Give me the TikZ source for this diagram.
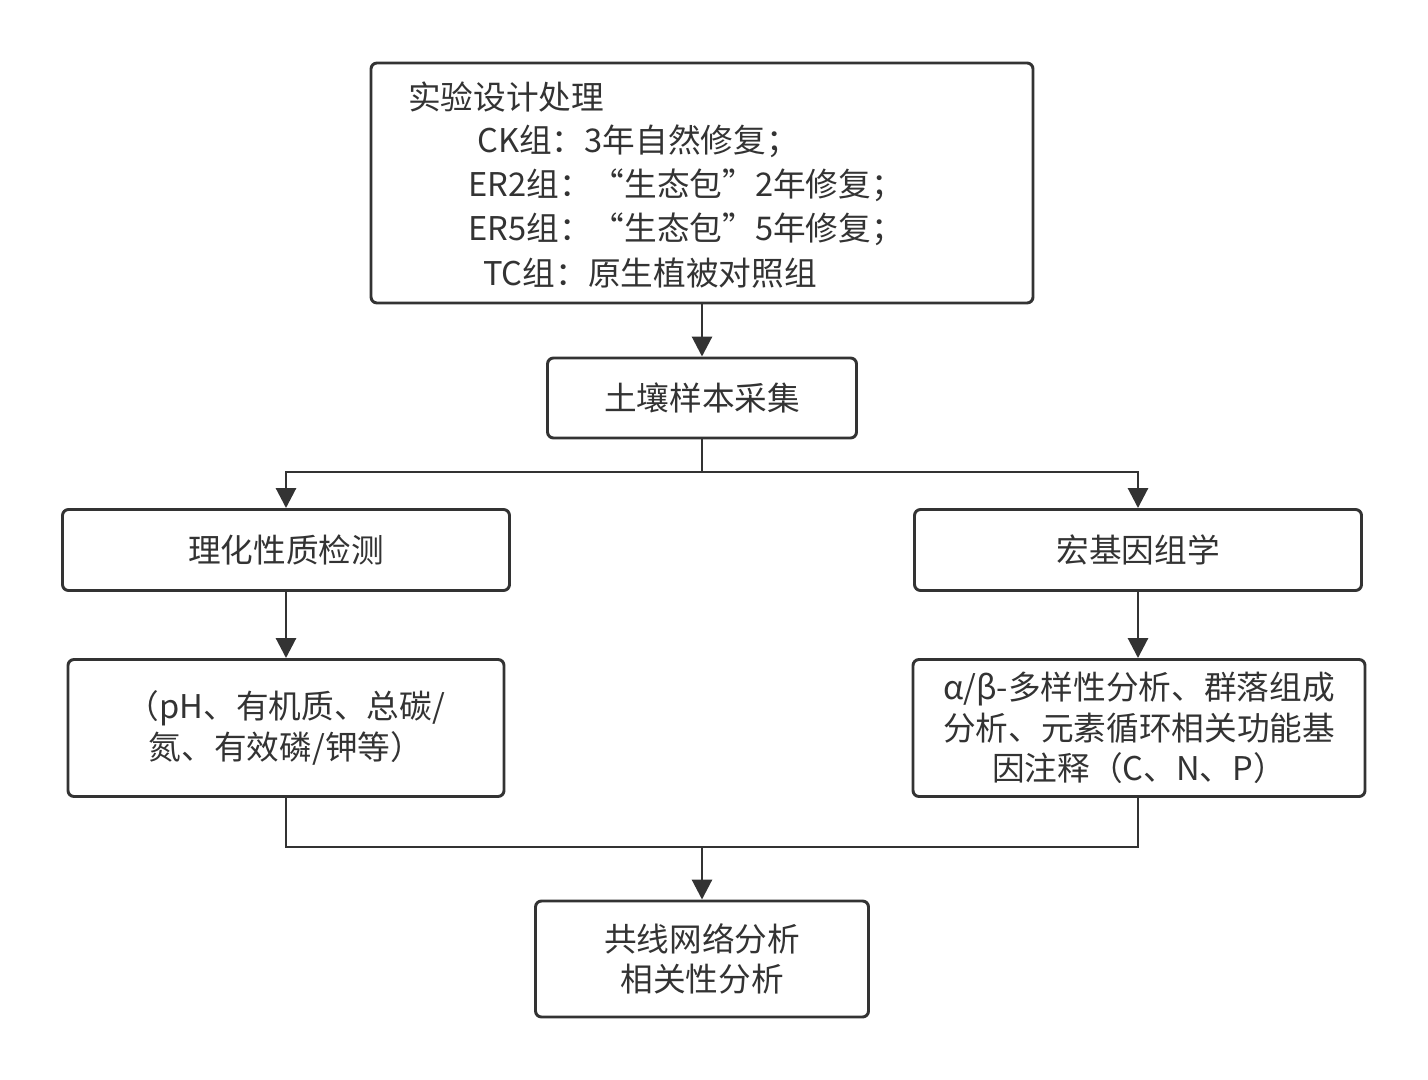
\documentclass[tikz,border=0pt]{standalone}
\usepackage{fontspec}
\setmainfont{Noto Sans CJK SC}
\usetikzlibrary{arrows.meta}
\definecolor{ln}{HTML}{333333}
\begin{document}
\begin{tikzpicture}[x=0.75pt,y=-0.75pt,
  box/.style={draw=ln,line width=2.2pt,rounded corners=4.5pt,inner sep=0pt,align=center,font=\fontsize{24.5}{30.5}\selectfont,text=ln},
  txt/.style={inner sep=0pt,anchor=west,font=\fontsize{24.5}{30.5}\selectfont,text=ln},
  conn/.style={draw=ln,line width=2.2pt},
  arr/.style={conn,-{Triangle[length=15pt,width=15pt]}}]
\useasboundingbox (0,0) rectangle (1428,1080);
\node[box,minimum width=662*0.75pt,minimum height=240*0.75pt] (top) at (702,183) {};
\node[txt] (t1) at (408,97) {实验设计处理};
\node[txt] (t2) at (477,141) {CK组：3年自然修复；};
\node[txt] (t3) at (468,185) {ER2组：“生态包”2年修复；};
\node[txt] (t4) at (468,229) {ER5组：“生态包”5年修复；};
\node[txt] (t5) at (483,273) {TC组：原生植被对照组};
\node[box,minimum width=309*0.75pt,minimum height=80*0.75pt] (soil) at (702,398) {土壤样本采集};
\node[box,minimum width=447*0.75pt,minimum height=81*0.75pt] (l1) at (286,550) {理化性质检测};
\node[box,minimum width=447*0.75pt,minimum height=81*0.75pt] (r1) at (1138,550) {宏基因组学};
\node[box,minimum width=436*0.75pt,minimum height=137*0.75pt] (l2) at (286,728) {（pH、有机质、总碳/\\氮、有效磷/钾等）};
\node[box,minimum width=452*0.75pt,minimum height=137*0.75pt] (r2) at (1139,728) {α/β-多样性分析、群落组成\\分析、元素循环相关功能基\\因注释（C、N、P）};
\node[box,minimum width=333*0.75pt,minimum height=116*0.75pt] (bot) at (702,959) {共线网络分析\\相关性分析};
\coordinate (s) at (702,472);
\coordinate (m) at (702,847);
\draw[arr] (top) -- (soil);
\draw[conn] (soil) -- (s);
\draw[arr] (s) -| (l1);
\draw[arr] (s) -| (r1);
\draw[arr] (l1) -- (l2);
\draw[arr] (r1.south) -- (r2.north-|r1.south);
\draw[conn] (l2) |- (m);
\draw[conn] (r2.south-|r1.south) |- (m);
\draw[arr] (m) -- (bot);
\end{tikzpicture}
\end{document}
